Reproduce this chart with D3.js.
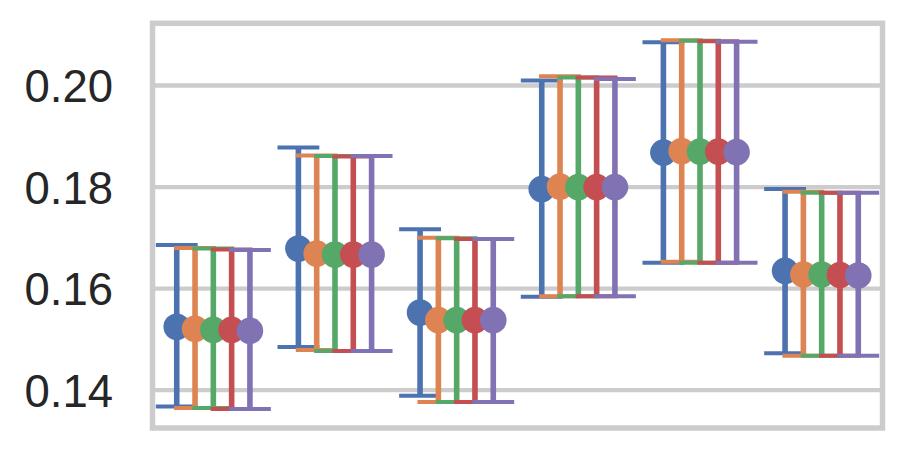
<!DOCTYPE html>
<html>
<head>
<meta charset="utf-8">
<script src="https://cdn.jsdelivr.net/npm/d3@7"></script>
<style>
  html, body { margin: 0; padding: 0; background: #ffffff; }
  svg { display: block; }
</style>
</head>
<body>
<div id="chart"></div>
<script>
// ---- data ----
const categories = ["c1", "c2", "c3", "c4", "c5", "c6"];
const hues = ["h1", "h2", "h3", "h4", "h5"];
const yTicks = [0.14, 0.16, 0.18, 0.20];

const means1 = [0.1524, 0.1678, 0.1552, 0.1795, 0.1867, 0.1634];
const means2 = [0.1520, 0.1668, 0.1537, 0.1800, 0.1870, 0.1627];
const means3 = [0.1518, 0.1666, 0.1537, 0.1799, 0.1869, 0.1627];
const means4 = [0.1518, 0.1666, 0.1537, 0.1799, 0.1869, 0.1626];
const means5 = [0.1516, 0.1666, 0.1537, 0.1799, 0.1868, 0.1625];

const upper1 = [0.1685, 0.1877, 0.1716, 0.2009, 0.2084, 0.1795];
const upper2 = [0.1679, 0.1861, 0.1699, 0.2017, 0.2088, 0.1790];
const upper3 = [0.1678, 0.1860, 0.1698, 0.2015, 0.2087, 0.1788];
const upper4 = [0.1676, 0.1859, 0.1697, 0.2015, 0.2086, 0.1788];
const upper5 = [0.1675, 0.1860, 0.1697, 0.2012, 0.2085, 0.1788];

const lower1 = [0.1367, 0.1484, 0.1388, 0.1583, 0.1650, 0.1472];
const lower2 = [0.1364, 0.1478, 0.1376, 0.1584, 0.1652, 0.1467];
const lower3 = [0.1364, 0.1476, 0.1376, 0.1584, 0.1650, 0.1467];
const lower4 = [0.1362, 0.1476, 0.1376, 0.1584, 0.1650, 0.1467];
const lower5 = [0.1362, 0.1476, 0.1376, 0.1584, 0.1650, 0.1467];

const meansAll = [means1, means2, means3, means4, means5];
const upperAll = [upper1, upper2, upper3, upper4, upper5];
const lowerAll = [lower1, lower2, lower3, lower4, lower5];

// ---- styles ----
const W = 900, H = 450;
const colors = ["#4C72B0", "#DD8452", "#55A868", "#C44E52", "#8172B3"];
const plot = { left: 152.5, right: 882.5, top: 23.3, bottom: 428 };
const yDomain = [0.13246, 0.21215];
const dodgeStep = 0.1504;   // fraction of band between hue levels
const capHalf = 0.172;      // fraction of band
const radius = 13.3;

const svg = d3.select("#chart").append("svg")
  .attr("width", W).attr("height", H);

const x = d3.scaleBand().domain(categories)
  .range([plot.left, plot.right]).paddingInner(0).paddingOuter(0);
const y = d3.scaleLinear().domain(yDomain).range([plot.bottom, plot.top]);
const bw = x.bandwidth();

// grid
const yAxis = d3.axisLeft(y).tickValues(yTicks)
  .tickFormat(d3.format(".2f")).tickSize(0).tickPadding(0);
const gAxis = svg.append("g").attr("transform", `translate(${plot.left},0)`).call(yAxis);
gAxis.select(".domain").remove();
gAxis.selectAll(".tick text")
  .attr("x", 113 - plot.left)
  .attr("dy", "0.365em")
  .attr("fill", "#262626")
  .style("font-family", "'Liberation Sans', Arial, sans-serif")
  .style("font-size", "45.5px")
  .attr("text-anchor", "end");
gAxis.selectAll(".tick").append("line")
  .attr("x1", 0).attr("x2", plot.right - plot.left)
  .attr("stroke", "#cccccc").attr("stroke-width", 4.3);
gAxis.selectAll(".tick line").lower();

// marks
const gMarks = svg.append("g");
hues.forEach((h, hi) => {
  const off = (hi - (hues.length - 1) / 2) * dodgeStep * bw;
  const gx = c => x(c) + bw / 2 + off;
  const g = gMarks.append("g").attr("class", "hue-" + h);
  const col = colors[hi];
  categories.forEach((c, ci) => {
    const cx = gx(c);
    const yu = y(upperAll[hi][ci]);
    const yl = y(lowerAll[hi][ci]);
    g.append("line")
      .attr("x1", cx).attr("x2", cx).attr("y1", yu).attr("y2", yl)
      .attr("stroke", col).attr("stroke-width", 5.6);
    [yu, yl].forEach(yy => {
      g.append("line")
        .attr("x1", cx - capHalf * bw).attr("x2", cx + capHalf * bw)
        .attr("y1", yy).attr("y2", yy)
        .attr("stroke", col).attr("stroke-width", 4);
    });
  });
  g.selectAll("circle").data(categories).join("circle")
    .attr("cx", c => gx(c))
    .attr("cy", (c, ci) => y(meansAll[hi][ci]))
    .attr("r", radius)
    .attr("fill", col);
});

// frame
svg.append("rect")
  .attr("x", plot.left).attr("y", plot.top)
  .attr("width", plot.right - plot.left).attr("height", plot.bottom - plot.top)
  .attr("fill", "none").attr("stroke", "#cccccc").attr("stroke-width", 5.5);
</script>
</body>
</html>
